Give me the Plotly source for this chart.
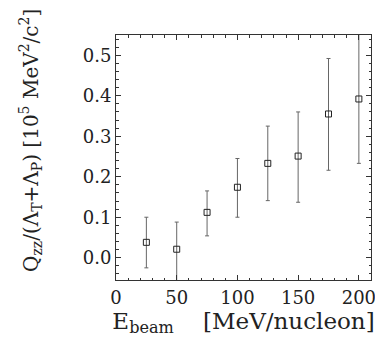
import plotly.graph_objects as go

e_beam = [25, 50, 75, 100, 125, 150, 175, 200]
q_ratio = [0.038, 0.021, 0.112, 0.174, 0.233, 0.251, 0.355, 0.392]
err_hi = [0.100, 0.088, 0.165, 0.245, 0.325, 0.360, 0.492, 0.600]
err_lo = [-0.025, -0.080, 0.054, 0.100, 0.141, 0.137, 0.216, 0.233]
y_ticks = [0.0, 0.1, 0.2, 0.3, 0.4, 0.5]
y_tick_text = ["0.0", "0.1", "0.2", "0.3", "0.4", "0.5"]
x_ticks = [0, 50, 100, 150, 200]
x_tick_text = ["0", "50", "100", "150", "200"]

plus = [h - v for h, v in zip(err_hi, q_ratio)]
minus = [v - l for l, v in zip(err_lo, q_ratio)]

font_family = "DejaVu Serif, Liberation Serif, serif"

fig = go.Figure()
fig.add_trace(go.Scatter(
    x=e_beam, y=q_ratio, mode="markers",
    marker=dict(symbol="square-open", size=6, color="#222", line=dict(width=1, color="#222")),
    error_y=dict(type="data", symmetric=False, array=plus, arrayminus=minus,
                 color="#666", thickness=1, width=2),
    showlegend=False,
))

axis_common = dict(
    showline=True, linecolor="#333", linewidth=1, mirror="allticks",
    ticks="inside", ticklen=5, tickcolor="#333", tickwidth=1,
    showgrid=False, zeroline=False, automargin=False,
    tickfont=dict(family=font_family, size=18, color="#222"),
)

fig.update_xaxes(
    range=[0, 210], tickvals=x_ticks, ticktext=x_tick_text,
    ticklabelstandoff=1,
    minor=dict(dtick=10, ticks="inside", ticklen=2.5, tickcolor="#333", showgrid=False),
    title=dict(text="E<sub>beam</sub>&nbsp;&nbsp;&nbsp;&nbsp;[MeV/nucleon]",
               font=dict(family=font_family, size=23, color="#222"), standoff=4),
    **axis_common,
)
fig.update_yaxes(
    range=[-0.055, 0.55], tickvals=y_ticks, ticktext=y_tick_text,
    ticksuffix="\u00a0",
    minor=dict(dtick=0.02, ticks="inside", ticklen=2.5, tickcolor="#333", showgrid=False),
    **axis_common,
)

fig.add_annotation(
    text="Q<sub>zz</sub>/(Λ<sub>T</sub>+Λ<sub>P</sub>) [10<sup>5</sup> MeV<sup>2</sup>/c<sup>2</sup>]",
    xref="paper", yref="paper", x=-0.335, y=0.57,
    xanchor="center", yanchor="middle", textangle=-90, showarrow=False,
    font=dict(family=font_family, size=20, color="#222"),
)

fig.update_layout(
    width=383, height=345,
    margin=dict(l=108, r=20, t=27, b=73),
    plot_bgcolor="white", paper_bgcolor="white",
)

fig.write_html("out.html")
